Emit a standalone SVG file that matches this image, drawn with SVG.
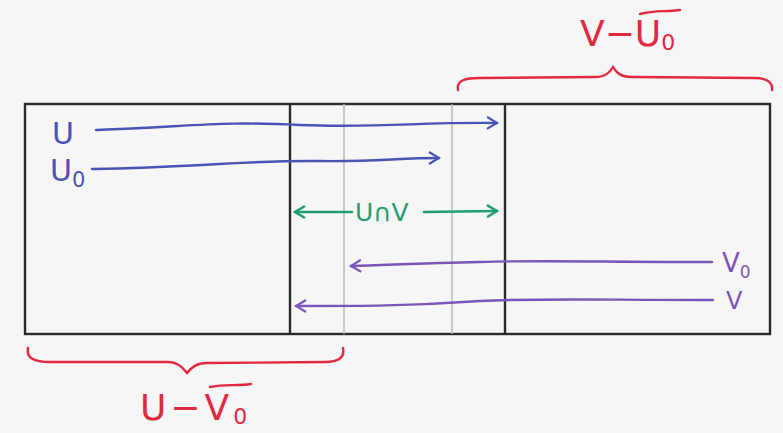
<svg xmlns="http://www.w3.org/2000/svg" width="783" height="433" viewBox="0 0 783 433">
<defs>
<style>
.hand{font-family:"DejaVu Sans","Liberation Sans",sans-serif;}
.blue{fill:#4a52b5;}
.green{fill:#1f9e6e;}
.purple{fill:#7b55b8;}
.red{fill:#e0283e;}
.frame{fill:none;stroke:#2a2a2a;stroke-width:2.4;}
.faint{stroke:#b8b8b8;stroke-width:1.5;fill:none;}
.ab{stroke:#4a52b5;stroke-width:2.4;fill:none;stroke-linecap:round;}
.ag{stroke:#1f9e6e;stroke-width:2.6;fill:none;stroke-linecap:round;}
.ap{stroke:#7b55b8;stroke-width:2.4;fill:none;stroke-linecap:round;}
.br{stroke:#e0283e;stroke-width:2.4;fill:none;stroke-linecap:round;}
</style>
<marker id="hb" viewBox="0 0 14 14" refX="12" refY="7" markerWidth="14" markerHeight="14" markerUnits="userSpaceOnUse" orient="auto"><path d="M2,1 L12,7 L2,13" fill="none" stroke="#4a52b5" stroke-width="2.2"/></marker>
<marker id="hg" viewBox="0 0 14 14" refX="12" refY="7" markerWidth="14" markerHeight="14" markerUnits="userSpaceOnUse" orient="auto-start-reverse"><path d="M2,1 L12,7 L2,13" fill="none" stroke="#1f9e6e" stroke-width="2.4"/></marker>
<marker id="hp" viewBox="0 0 14 14" refX="12" refY="7" markerWidth="14" markerHeight="14" markerUnits="userSpaceOnUse" orient="auto"><path d="M2,1 L12,7 L2,13" fill="none" stroke="#7b55b8" stroke-width="2.2"/></marker>
</defs>
<rect x="0" y="0" width="783" height="433" fill="#f6f6f6"/>

<g id="frame">
<rect x="25" y="104" width="745" height="230" fill="#efefef" class="frame"/>
<line x1="290" y1="104" x2="290" y2="334" class="frame"/>
<line x1="505" y1="104" x2="505" y2="334" class="frame"/>
<line x1="344" y1="104" x2="344" y2="334" class="faint"/>
<line x1="452" y1="104" x2="452" y2="334" class="faint"/>
</g>

<g id="connectors">
<path class="ab" d="M96,130 C200,126 220,121 300,125 C380,128 420,122 497,123" marker-end="url(#hb)"/>
<path class="ab" d="M92,169 C200,167 250,160 320,161 C370,162 400,158 439,158" marker-end="url(#hb)"/>
<path class="ag" d="M352,212 L295,212" marker-end="url(#hg)"/>
<path class="ag" d="M424,212 L497,211" marker-end="url(#hg)"/>
<path class="ap" d="M712,262 C600,262 540,260 480,262 C420,263 390,265 351,266" marker-end="url(#hp)"/>
<path class="ap" d="M713,300 C600,300 540,298 480,301 C410,306 360,306 296,306" marker-end="url(#hp)"/>
<path class="br" d="M458,90 C456,80 466,78 480,78 L595,77 C606,77 610,72 613,67 C616,72 620,77 632,77 L755,78 C766,78 773,82 772,90"/>
<path class="br" d="M28,348 C26,358 34,362 50,362 L168,362 C178,362 183,368 187,373 C191,368 196,363 207,363 L325,362 C338,362 345,358 343,348"/>
</g>

<g id="label-U"><text class="hand blue" x="52" y="144" font-size="30">U</text></g>
<g id="label-U0"><text class="hand blue" x="50" y="181" font-size="30">U<tspan font-size="21" dy="6">0</tspan></text></g>
<g id="label-UnV"><text class="hand green" x="355" y="221" font-size="25">U∩V</text></g>
<g id="label-V0"><text class="hand purple" x="722" y="272" font-size="26">V<tspan font-size="17" dy="6">0</tspan></text></g>
<g id="label-V"><text class="hand purple" x="726" y="309" font-size="24">V</text></g>
<g id="label-V-U0">
<text class="hand red" x="580" y="46" font-size="36">V−U<tspan font-size="22" dy="4">0</tspan></text>
<path class="br" d="M640,14 C655,10 665,12 680,10"/>
</g>
<g id="label-U-V0">
<text class="hand red" x="140" y="420" font-size="36" letter-spacing="4">U−V<tspan font-size="22" dy="4">0</tspan></text>
<path class="br" d="M210,387 C224,384 237,386 251,384"/>
</g>
</svg>
